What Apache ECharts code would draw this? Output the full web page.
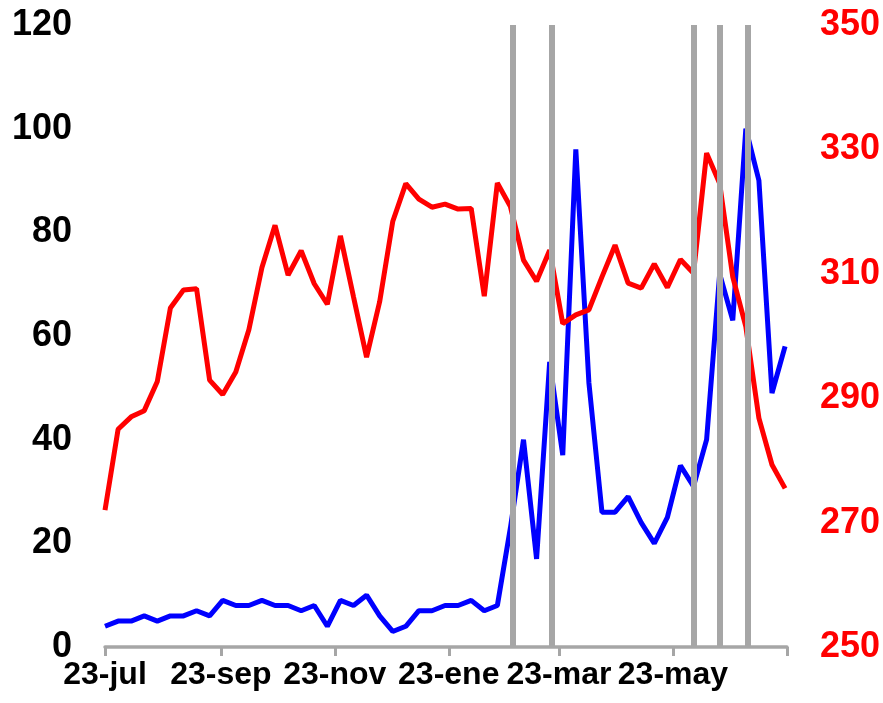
<!DOCTYPE html>
<html>
<head>
<meta charset="utf-8">
<script src="https://cdn.jsdelivr.net/npm/echarts@6/dist/echarts.min.js"></script>
<style>
html,body{margin:0;padding:0;background:#fff;}
#chart{width:883px;height:703px;}
</style>
</head>
<body>
<div id="chart"></div>
<script>
// Weekly observation dates
const dates = [
  "2022-07-23","2022-07-30","2022-08-06","2022-08-13","2022-08-20","2022-08-27",
  "2022-09-03","2022-09-10","2022-09-17","2022-09-24","2022-10-01","2022-10-08",
  "2022-10-15","2022-10-22","2022-10-29","2022-11-05","2022-11-12","2022-11-19",
  "2022-11-26","2022-12-03","2022-12-10","2022-12-17","2022-12-24","2022-12-31",
  "2023-01-07","2023-01-14","2023-01-21","2023-01-28","2023-02-04","2023-02-11",
  "2023-02-18","2023-02-25","2023-03-04","2023-03-11","2023-03-18","2023-03-25",
  "2023-04-01","2023-04-08","2023-04-15","2023-04-22","2023-04-29","2023-05-06",
  "2023-05-13","2023-05-20","2023-05-27","2023-06-03","2023-06-10","2023-06-17",
  "2023-06-24","2023-07-01","2023-07-08","2023-07-15","2023-07-22"
];
// Blue series (left axis, 0-120)
const blueValues = [
  4,5,5,6,5,6,6,7,6,9,
  8,8,9,8,8,7,8,4,9,8,
  10,6,3,4,7,7,8,8,9,7,
  8,23,40,17,55,37,96,51,26,26,
  29,24,20,25,35,31,40,72,63,100,
  90,49,58
];
// Red series (right axis, 250-350)
const redValues = [
  272,285,287,288,292.7,304.5,307.4,307.6,292.9,290.6,
  294.2,301,311,317.8,309.8,313.7,308.4,305.1,316.1,306.3,
  296.6,305.5,318.4,324.5,322,320.7,321.2,320.4,320.5,306.4,
  324.6,320.8,312.2,308.8,313.8,302,303.4,304.2,309.5,314.6,
  308.5,307.7,311.6,307.8,312.3,310.1,329.4,324.5,309.5,301.5,
  286.8,279.3,275.5
];
// Event markers (grey vertical lines)
const eventDates = ["2023-02-26","2023-03-19","2023-06-03","2023-06-17","2023-07-02"];
// X axis tick dates and labels
const tickDates = ["2022-07-23","2022-09-23","2022-11-23","2023-01-23","2023-03-23","2023-05-23","2023-07-23"];
const tickLabels = ["23-jul","23-sep","23-nov","23-ene","23-mar","23-may",""];
// Axis tick labels
const leftTicks = [0,20,40,60,80,100,120];
const rightTicks = [250,270,290,310,330,350];

const DAY = 86400000;
const origin = Date.UTC(2022,6,23);
function dayOf(s){ const p = s.split('-').map(Number); return Math.round((Date.UTC(p[0],p[1]-1,p[2]) - origin)/DAY); }
const tickDays = tickDates.map(dayOf);
const labelMap = {};
tickDays.forEach((d,i)=>{ labelMap[d] = tickLabels[i]; });

const blueData = dates.map((d,i)=>[dayOf(d), blueValues[i]]);
const redData = dates.map((d,i)=>[dayOf(d), redValues[i]]);

const font = "'Liberation Sans', Arial, sans-serif";
const chart = echarts.init(document.getElementById('chart'), null, {renderer:'canvas'});
chart.setOption({
  animation:false,
  backgroundColor:'#ffffff',
  grid:{left:105, right:96, top:25, bottom:56, containLabel:false},
  xAxis:{
    type:'value',
    min:tickDays[0], max:tickDays[tickDays.length-1],
    axisLine:{show:true, lineStyle:{color:'#a6a6a6', width:3.5}},
    axisTick:{show:true, customValues:tickDays, length:9, lineStyle:{color:'#a6a6a6', width:3}},
    axisLabel:{
      customValues:tickDays.slice(0,-1),
      formatter:v=>labelMap[v] || '',
      color:'#000', fontFamily:font, fontWeight:'bold', fontSize:32, margin:12
    },
    splitLine:{show:false}
  },
  yAxis:[
    {
      type:'value', min:leftTicks[0], max:leftTicks[leftTicks.length-1], interval:20,
      axisLine:{show:false}, axisTick:{show:false}, splitLine:{show:false},
      axisLabel:{color:'#000', fontFamily:font, fontWeight:'bold', fontSize:36, margin:33}
    },
    {
      type:'value', position:'right', min:rightTicks[0], max:rightTicks[rightTicks.length-1], interval:20,
      axisLine:{show:false}, axisTick:{show:false}, splitLine:{show:false},
      axisLabel:{color:'#ff0000', fontFamily:font, fontWeight:'bold', fontSize:36, margin:33}
    }
  ],
  series:[
    {
      name:'blue', type:'line', yAxisIndex:0, data:blueData, z:2,
      symbol:'none', lineStyle:{color:'#0000ff', width:5}
    },
    {
      name:'red', type:'line', yAxisIndex:1, data:redData, z:3,
      symbol:'none', lineStyle:{color:'#ff0000', width:5}
    },
    {
      name:'events', type:'line', yAxisIndex:0, data:[], z:4,
      markLine:{
        silent:true, symbol:['none','none'], label:{show:false},
        lineStyle:{color:'#a6a6a6', width:6, type:'solid'},
        data:eventDates.map(d=>({xAxis:dayOf(d)}))
      }
    }
  ]
});
</script>
</body>
</html>
